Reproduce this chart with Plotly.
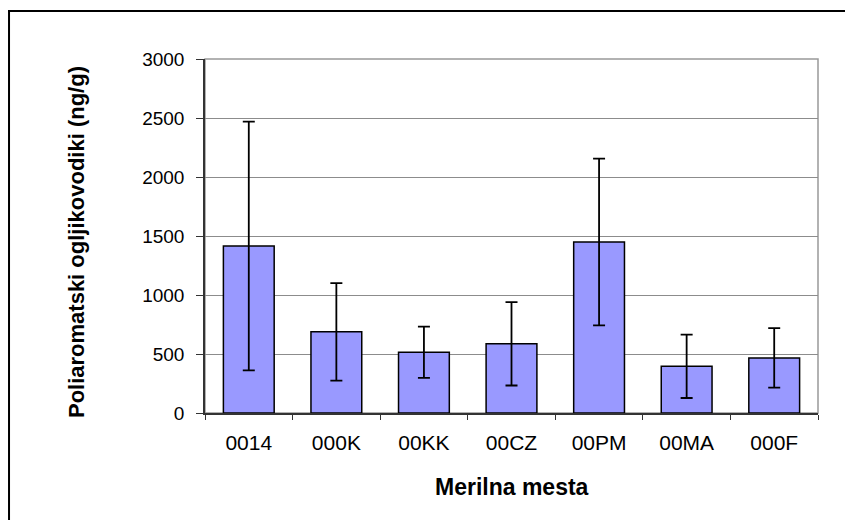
import plotly.graph_objects as go

# data
sites = ["0014", "000K", "00KK", "00CZ", "00PM", "00MA", "000F"]
pah_mean = [1415, 688, 515, 586, 1449, 396, 467]
pah_err = [1054, 413, 217, 353, 706, 269, 252]
y_ticks = [0, 500, 1000, 1500, 2000, 2500, 3000]

font_family = "Arial, Liberation Sans, sans-serif"

fig = go.Figure()
fig.add_trace(go.Bar(
    x=sites, y=pah_mean,
    marker=dict(color="#9999FF", line=dict(color="black", width=1.5)),
    error_y=dict(type="data", array=pah_err, symmetric=True,
                 color="black", thickness=1.8, width=6),
    showlegend=False,
))

# grey plot-area frame (top and right edges)
fig.add_shape(type="rect", xref="paper", yref="paper",
              x0=0, x1=1, y0=0, y1=1,
              line=dict(color="#999999", width=1.5), layer="below")

# outer chart frame, clipped by the window on the right and bottom
fig.add_shape(type="rect", xref="paper", yref="paper",
              x0=-0.3197, x1=1.08, y0=-0.35, y1=1.1356,
              line=dict(color="black", width=2), layer="below")

fig.add_annotation(
    text="Poliaromatski ogljikovodiki (ng/g)",
    xref="paper", yref="paper", x=-0.2104, y=0.483,
    xanchor="center", yanchor="middle", textangle=-90, showarrow=False,
    font=dict(family=font_family, size=22, color="black", weight="bold"))

fig.add_annotation(
    text="Merilna mesta",
    xref="paper", yref="paper", x=0.5, y=-0.209,
    xanchor="center", yanchor="middle", showarrow=False,
    font=dict(family=font_family, size=23, color="black", weight="bold"))

# page body adds an 8px margin, so the figure is 8px smaller than the window
fig.update_layout(
    width=845, height=512,
    paper_bgcolor="white", plot_bgcolor="white",
    margin=dict(l=197, r=35, t=51, b=107),
    bargap=0.42,
    font=dict(family=font_family, color="black"),
)

fig.update_xaxes(
    type="category",
    showline=True, linecolor="#333333", linewidth=1.5,
    ticks="outside", tickson="boundaries", ticklen=5, tickcolor="#333333",
    tickfont=dict(size=21), ticklabelstandoff=10, showgrid=False,
)
fig.update_yaxes(
    range=[0, 3000], tickvals=y_ticks,
    showline=True, linecolor="#333333", linewidth=1.5,
    ticks="outside", ticklen=7, tickcolor="#333333",
    tickfont=dict(size=19), ticklabelstandoff=8,
    showgrid=True, gridcolor="#8c8c8c", gridwidth=1,
    zeroline=False,
)

fig.write_html("out.html")
